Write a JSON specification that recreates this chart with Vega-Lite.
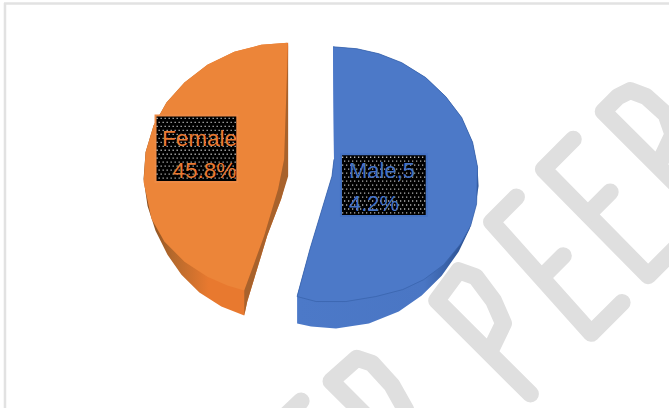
{"$schema":"https://vega.github.io/schema/vega-lite/v6.json","width":671,"height":410,"autosize":{"type":"fit","contains":"padding"},"padding":0,"background":"white","config":{"view":{"stroke":null}},
"datasets":{
"frame":[{"x":4,"x2":671,"y":3.5,"y2":3.5,"c":"t"},{"x":5,"x2":5,"y":3,"y2":410,"c":"l"}],
"wm":[
{"s":"N","i":1,"x":284,"y":420},{"s":"N","i":2,"x":302,"y":403},
{"s":"D","i":1,"x":392,"y":443},{"s":"D","i":2,"x":332,"y":383},{"s":"D","i":3,"x":358,"y":360},{"s":"D","i":4,"x":373,"y":365},{"s":"D","i":5,"x":393,"y":387},{"s":"D","i":6,"x":407,"y":412},{"s":"D","i":7,"x":415,"y":440},
{"s":"P1","i":1,"x":532,"y":396},{"s":"P1","i":2,"x":438,"y":302},{"s":"P1","i":3,"x":460,"y":272},{"s":"P1","i":4,"x":477,"y":278},{"s":"P1","i":5,"x":495,"y":302},{"s":"P1","i":6,"x":505,"y":325},{"s":"P1","i":7,"x":491,"y":354},
{"s":"E1","i":1,"x":518,"y":198},{"s":"E1","i":2,"x":493,"y":223},{"s":"E1","i":3,"x":593,"y":335},{"s":"E1","i":4,"x":624,"y":304},
{"s":"E1m","i":1,"x":546,"y":276},{"s":"E1m","i":2,"x":565,"y":257},
{"s":"E2","i":1,"x":575,"y":140},{"s":"E2","i":2,"x":545,"y":170},{"s":"E2","i":3,"x":650,"y":277},{"s":"E2","i":4,"x":682,"y":245},
{"s":"E2m","i":1,"x":590,"y":215},{"s":"E2m","i":2,"x":612,"y":193},
{"s":"P2","i":1,"x":715,"y":222},{"s":"P2","i":2,"x":605,"y":112},{"s":"P2","i":3,"x":620,"y":97},{"s":"P2","i":4,"x":632,"y":91},{"s":"P2","i":5,"x":648,"y":97},{"s":"P2","i":6,"x":668,"y":115},{"s":"P2","i":7,"x":675,"y":135},{"s":"P2","i":8,"x":660,"y":167}
],
"blueOuter":[{"i":1,"x":334,"y":47},{"i":2,"x":358,"y":49},{"i":3,"x":380,"y":54},{"i":4,"x":403,"y":63},{"i":5,"x":427,"y":78},{"i":6,"x":447,"y":97},{"i":7,"x":463,"y":118},{"i":8,"x":474,"y":143},{"i":9,"x":479,"y":168},{"i":10,"x":480,"y":187},{"i":11,"x":477,"y":207},{"i":12,"x":471,"y":230},{"i":13,"x":460,"y":253},{"i":14,"x":443,"y":277},{"i":15,"x":423,"y":297},{"i":16,"x":400,"y":313},{"i":17,"x":370,"y":325},{"i":18,"x":337,"y":330},{"i":19,"x":312,"y":328},{"i":20,"x":298,"y":325},{"i":21,"x":298,"y":297},{"i":22,"x":311,"y":250},{"i":23,"x":333,"y":177},{"i":24,"x":335,"y":160}],
"blueTop":[{"i":1,"x":334,"y":47},{"i":2,"x":358,"y":49},{"i":3,"x":380,"y":54},{"i":4,"x":403,"y":63},{"i":5,"x":427,"y":78},{"i":6,"x":447,"y":97},{"i":7,"x":463,"y":118},{"i":8,"x":474,"y":143},{"i":9,"x":479,"y":168},{"i":10,"x":478,"y":205},{"i":11,"x":472,"y":227},{"i":12,"x":462,"y":245},{"i":13,"x":445,"y":266},{"i":14,"x":425,"y":281},{"i":15,"x":404,"y":291},{"i":16,"x":377,"y":298},{"i":17,"x":347,"y":303},{"i":18,"x":317,"y":303},{"i":19,"x":298,"y":298},{"i":20,"x":311,"y":250},{"i":21,"x":333,"y":177},{"i":22,"x":335,"y":160}],
"orangeOuter":[{"i":1,"x":289,"y":43},{"i":2,"x":262,"y":45},{"i":3,"x":235,"y":52},{"i":4,"x":208,"y":65},{"i":5,"x":185,"y":83},{"i":6,"x":167,"y":103},{"i":7,"x":154,"y":126},{"i":8,"x":146,"y":153},{"i":9,"x":144,"y":180},{"i":10,"x":148,"y":207},{"i":11,"x":156,"y":232},{"i":12,"x":168,"y":256},{"i":13,"x":182,"y":276},{"i":14,"x":200,"y":294},{"i":15,"x":222,"y":308},{"i":16,"x":245,"y":317},{"i":17,"x":248,"y":303},{"i":18,"x":268,"y":237},{"i":19,"x":282,"y":200},{"i":20,"x":288,"y":177}],
"orangeCut":[{"i":1,"x":289,"y":43},{"i":2,"x":289,"y":177},{"i":3,"x":282,"y":200},{"i":4,"x":268,"y":237},{"i":5,"x":248,"y":303},{"i":6,"x":245,"y":317},{"i":7,"x":245,"y":292},{"i":8,"x":265,"y":237},{"i":9,"x":279,"y":190},{"i":10,"x":285,"y":160},{"i":11,"x":287,"y":100}],
"orangeTop":[{"i":1,"x":288,"y":43},{"i":2,"x":262,"y":45},{"i":3,"x":235,"y":52},{"i":4,"x":208,"y":65},{"i":5,"x":185,"y":83},{"i":6,"x":167,"y":103},{"i":7,"x":154,"y":126},{"i":8,"x":146,"y":153},{"i":9,"x":144,"y":183},{"i":10,"x":152,"y":220},{"i":11,"x":165,"y":243},{"i":12,"x":185,"y":263},{"i":13,"x":208,"y":278},{"i":14,"x":228,"y":287},{"i":15,"x":245,"y":292},{"i":16,"x":265,"y":237},{"i":17,"x":279,"y":190},{"i":18,"x":285,"y":160},{"i":19,"x":287,"y":100}],
"boxes":[{"category":"Female","x":156,"x2":238,"y":116,"y2":183},{"category":"Male","x":342,"x2":428,"y":155,"y2":217}],
"dotsA":[{"x":157,"x2":237,"y":119},{"x":157,"x2":237,"y":127},{"x":157,"x2":237,"y":135},{"x":157,"x2":237,"y":143},{"x":157,"x2":237,"y":151},{"x":157,"x2":237,"y":159},{"x":157,"x2":237,"y":167},{"x":157,"x2":237,"y":175},{"x":343,"x2":427,"y":158},{"x":343,"x2":427,"y":166},{"x":343,"x2":427,"y":174},{"x":343,"x2":427,"y":182},{"x":343,"x2":427,"y":190},{"x":343,"x2":427,"y":198},{"x":343,"x2":427,"y":206},{"x":343,"x2":427,"y":214}],
"dotsB":[{"x":159,"x2":237,"y":123},{"x":159,"x2":237,"y":131},{"x":159,"x2":237,"y":139},{"x":159,"x2":237,"y":147},{"x":159,"x2":237,"y":155},{"x":159,"x2":237,"y":163},{"x":159,"x2":237,"y":171},{"x":159,"x2":237,"y":179},{"x":345,"x2":427,"y":162},{"x":345,"x2":427,"y":170},{"x":345,"x2":427,"y":178},{"x":345,"x2":427,"y":186},{"x":345,"x2":427,"y":194},{"x":345,"x2":427,"y":202},{"x":345,"x2":427,"y":210}],
"labelsF":[{"text":"Female","x":200,"y":147},{"text":"45.8%","x":205,"y":179}],
"labelsM":[{"text":"Male,5","x":350,"y":179},{"text":"4.2%","x":350,"y":212}]
},
"layer":[
{"data":{"name":"frame"},"mark":{"type":"rule","color":"#e2e2e2","strokeWidth":2.5},"encoding":{"x":{"field":"x","type":"quantitative","scale":{"domain":[0,671],"nice":false,"zero":false},"axis":null},"x2":{"field":"x2"},"y":{"field":"y","type":"quantitative","scale":{"domain":[410,0],"nice":false,"zero":false},"axis":null},"y2":{"field":"y2"}}},
{"data":{"name":"wm"},"mark":{"type":"line","clip":true,"color":"#dfdfdf","strokeWidth":17,"strokeCap":"round","strokeJoin":"round"},"encoding":{"x":{"field":"x","type":"quantitative"},"y":{"field":"y","type":"quantitative"},"detail":{"field":"s"},"order":{"field":"i"}}},
{"data":{"name":"orangeOuter"},"mark":{"type":"line","stroke":null,"fill":{"gradient":"linear","x1":0,"y1":0,"x2":1,"y2":0,"stops":[{"offset":0,"color":"#7d4a20"},{"offset":0.2,"color":"#b5692c"},{"offset":0.45,"color":"#e8792f"},{"offset":1,"color":"#e8792f"}]}},"encoding":{"x":{"field":"x","type":"quantitative"},"y":{"field":"y","type":"quantitative"},"order":{"field":"i"}}},
{"data":{"name":"orangeTop"},"mark":{"type":"line","stroke":null,"fill":"#ec8539"},"encoding":{"x":{"field":"x","type":"quantitative"},"y":{"field":"y","type":"quantitative"},"order":{"field":"i"}}},
{"data":{"name":"orangeCut"},"mark":{"type":"line","stroke":null,"fill":"#a8622c"},"encoding":{"x":{"field":"x","type":"quantitative"},"y":{"field":"y","type":"quantitative"},"order":{"field":"i"}}},
{"data":{"name":"blueOuter"},"mark":{"type":"line","stroke":null,"fill":{"gradient":"linear","x1":0,"y1":0,"x2":1,"y2":0,"stops":[{"offset":0,"color":"#4c79c8"},{"offset":0.7,"color":"#4a76c4"},{"offset":0.9,"color":"#2f5597"},{"offset":1,"color":"#2f5597"}]}},"encoding":{"x":{"field":"x","type":"quantitative"},"y":{"field":"y","type":"quantitative"},"order":{"field":"i"}}},
{"data":{"name":"blueTop"},"mark":{"type":"line","stroke":"#3a64ad","strokeWidth":0.8,"fill":"#4c79c8"},"encoding":{"x":{"field":"x","type":"quantitative"},"y":{"field":"y","type":"quantitative"},"order":{"field":"i"}}},
{"data":{"name":"boxes"},"mark":{"type":"rect","fill":"#000000","strokeWidth":2},"encoding":{"x":{"field":"x","type":"quantitative"},"x2":{"field":"x2"},"y":{"field":"y","type":"quantitative"},"y2":{"field":"y2"},"stroke":{"field":"category","type":"nominal","scale":{"domain":["Female","Male"],"range":["#ee8a45","#4472c4"]},"legend":null}}},
{"data":{"name":"dotsA"},"mark":{"type":"rule","color":"#ffffff","opacity":0.7,"strokeWidth":1.3,"strokeDash":[1.3,2.7]},"encoding":{"x":{"field":"x","type":"quantitative"},"x2":{"field":"x2"},"y":{"field":"y","type":"quantitative"}}},
{"data":{"name":"dotsB"},"mark":{"type":"rule","color":"#ffffff","opacity":0.7,"strokeWidth":1.3,"strokeDash":[1.3,2.7]},"encoding":{"x":{"field":"x","type":"quantitative"},"x2":{"field":"x2"},"y":{"field":"y","type":"quantitative"}}},
{"data":{"name":"labelsF"},"mark":{"type":"text","font":"Liberation Sans","fontSize":22.5,"align":"center","baseline":"alphabetic","color":"#e97a32"},"encoding":{"x":{"field":"x","type":"quantitative"},"y":{"field":"y","type":"quantitative"},"text":{"field":"text"}}},
{"data":{"name":"labelsM"},"mark":{"type":"text","font":"Liberation Sans","fontSize":22,"align":"left","baseline":"alphabetic","color":"#4472c4"},"encoding":{"x":{"field":"x","type":"quantitative"},"y":{"field":"y","type":"quantitative"},"text":{"field":"text"}}}
]}
